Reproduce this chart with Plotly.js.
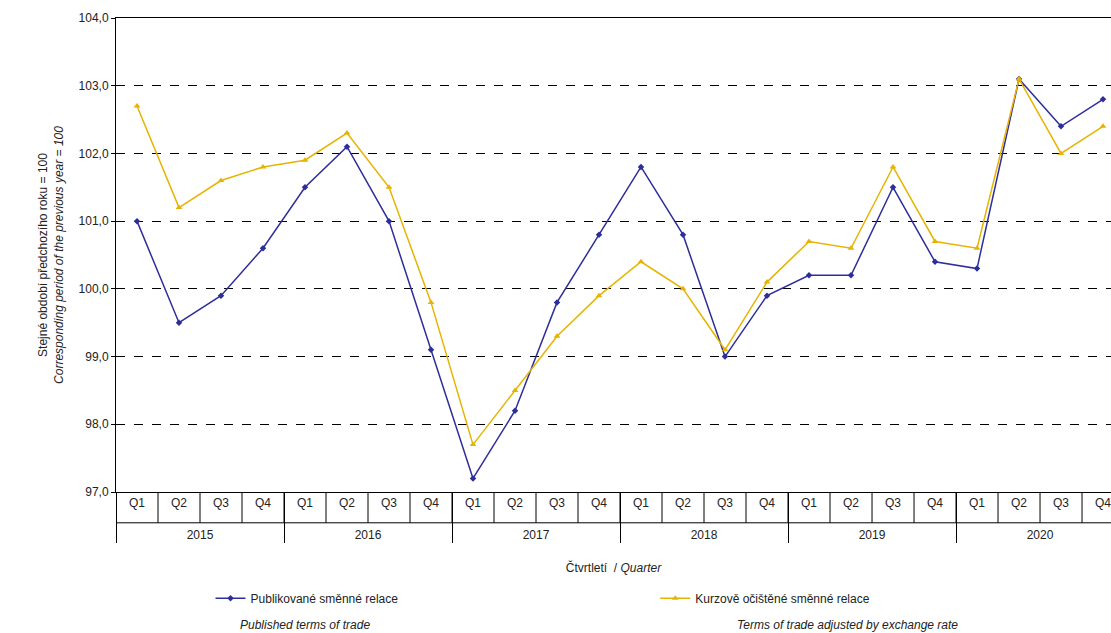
<!DOCTYPE html>
<html>
<head>
<meta charset="utf-8">
<script src="https://cdn.plot.ly/plotly-3.0.1.min.js"></script>
<style>body{margin:0}</style>
</head>
<body>
<div id="chart" style="width:1111px;height:633px"></div>
<script>
// Data
const years = ['2015', '2016', '2017', '2018', '2019', '2020'];
const quarters = ['Q1', 'Q2', 'Q3', 'Q4'];
const published = [101.0, 99.5, 99.9, 100.6, 101.5, 102.1, 101.0, 99.1, 97.2, 98.2, 99.8, 100.8,
  101.8, 100.8, 99.0, 99.9, 100.2, 100.2, 101.5, 100.4, 100.3, 103.1, 102.4, 102.8];
const adjusted = [102.7, 101.2, 101.6, 101.8, 101.9, 102.3, 101.5, 99.8, 97.7, 98.5, 99.3, 99.9,
  100.4, 100.0, 99.1, 100.1, 100.7, 100.6, 101.8, 100.7, 100.6, 103.1, 102.0, 102.4];

// years pushed down a line so they sit below the quarter boxes
const xYears = [], xQuarters = [];
years.forEach(y => quarters.forEach(q => { xYears.push('<br>' + y); xQuarters.push(q); }));

const font = { family: 'Liberation Sans, Arial, sans-serif', size: 12, color: '#222' };

// boxes round the quarter labels
const shapes = [];
for (let i = 0; i <= 24; i++) {
  shapes.push({
    type: 'line', xref: 'x', yref: 'paper', x0: i - 0.5, x1: i - 0.5,
    y0: 0, y1: -0.065, line: { color: '#000', width: 1 }
  });
}
shapes.push({ type: 'line', xref: 'paper', yref: 'paper', x0: 0, x1: 1, y0: -0.065, y1: -0.065,
  line: { color: '#000', width: 1 } });

Plotly.newPlot('chart', [
  {
    x: [xYears, xQuarters], y: published, name: 'Publikované směnné relace',
    type: 'scatter', mode: 'lines+markers', legend: 'legend',
    line: { color: '#2e2e9a', width: 1.5 },
    marker: { symbol: 'diamond', size: 5, color: '#2e2e9a' }
  },
  {
    x: [xYears, xQuarters], y: adjusted, name: 'Kurzově očištěné směnné relace',
    type: 'scatter', mode: 'lines+markers', legend: 'legend2',
    line: { color: '#e6b400', width: 1.5 },
    marker: { symbol: 'triangle-up', size: 6, color: '#e6b400' }
  }
], {
  width: 1111, height: 633,
  margin: { l: 116, r: 0, t: 18, b: 141 },
  separators: ', ',
  font: font,
  plot_bgcolor: '#fff', paper_bgcolor: '#fff',
  showlegend: true,
  legend: { x: 0.095, y: -0.224, xanchor: 'left', yanchor: 'middle', font: { size: 12 } },
  legend2: { x: 0.542, y: -0.224, xanchor: 'left', yanchor: 'middle', font: { size: 12 } },
  xaxis: {
    type: 'multicategory', range: [-0.5, 23.19],
    showline: true, linecolor: '#000', mirror: true,
    showgrid: false, ticks: '', showdividers: true, dividercolor: '#000', dividerwidth: 1,
    tickfont: { size: 12 },
    title: { text: 'Čtvrtletí  / <i>Quarter</i>', font: { size: 12 }, standoff: 22 }
  },
  yaxis: {
    range: [97, 104], dtick: 1, tickformat: '.1f',
    showline: true, linecolor: '#000', mirror: true,
    gridcolor: '#000', griddash: 'dash', gridwidth: 1,
    ticks: 'outside', ticklen: 4, tickcolor: '#000',
    zeroline: false,
    title: { text: 'Stejné období předchozího roku = 100<br><i>Corresponding period of the previous year = 100</i>', font: { size: 12 }, standoff: 12 }
  },
  shapes: shapes,
  annotations: [
    { xref: 'paper', yref: 'paper', x: 0.19, y: -0.30, showarrow: false, xanchor: 'center',
      text: '<i>Published terms of trade</i>', font: { size: 12 } },
    { xref: 'paper', yref: 'paper', x: 0.735, y: -0.30, showarrow: false, xanchor: 'center',
      text: '<i>Terms of trade adjusted by exchange rate</i>', font: { size: 12 } }
  ]
}, { displayModeBar: false });
</script>
</body>
</html>
